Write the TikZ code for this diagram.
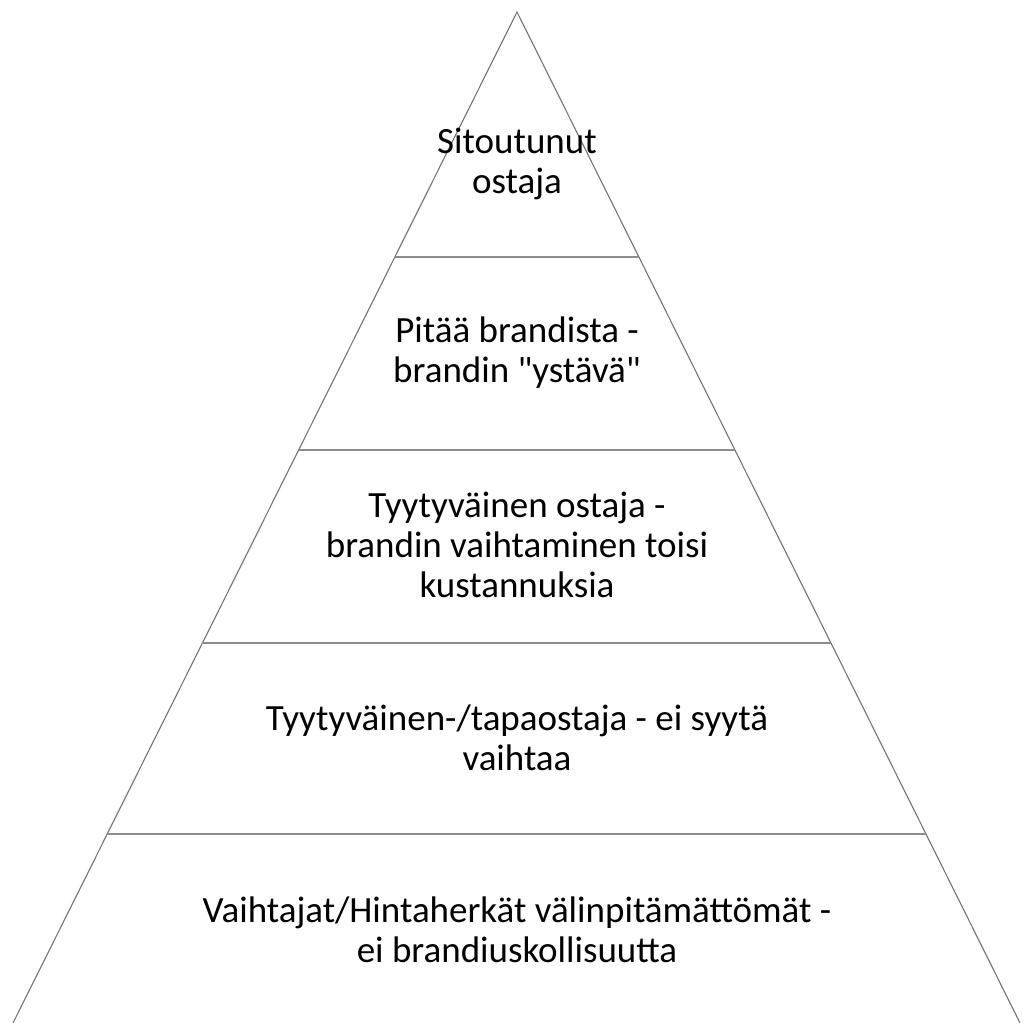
\documentclass[tikz,border=0pt]{standalone}
\usepackage{fontspec}
\setmainfont{Carlito}[Ligatures=TeXOff]
\begin{document}
\begin{tikzpicture}[x=1pt,y=-1pt,
  edge/.style={draw=black!55,line width=1.1pt},
  tier/.style={draw=black!45,line width=1.1pt},
  label/.style={align=center,inner sep=0pt,anchor=base,
    font=\fontsize{37}{40}\selectfont}]
\useasboundingbox (0,0) rectangle (1023,1023);
% outline of the pyramid (base runs past the lower edge)
\coordinate (apex) at (517,12);
\coordinate (bl) at (13,1023);
\coordinate (br) at (1020,1023);
\begin{scope}
\clip (0,0) rectangle (1023,1023);
\draw[edge] (bl) -- (apex) -- (br);
\end{scope}
% tier boundaries
\coordinate (l1) at (394.9,257); \coordinate (r1) at (638.9,257);
\coordinate (l2) at (298.7,450); \coordinate (r2) at (734.9,450);
\coordinate (l3) at (202.4,643); \coordinate (r3) at (830.9,643);
\coordinate (l4) at (107.2,834); \coordinate (r4) at (926.0,834);
\draw[tier] (l1) -- (r1);
\draw[tier] (l2) -- (r2);
\draw[tier] (l3) -- (r3);
\draw[tier] (l4) -- (r4);
% tier labels (anchored at the baseline of the last line)
\node[label] (t1) at (517,193) {Sitoutunut\\ostaja};
\node[label] (t2) at (517,382) {Pitää brandista -\\brandin "ystävä"};
\node[label] (t3) at (517,597) {Tyytyväinen ostaja -\\brandin vaihtaminen toisi\\kustannuksia};
\node[label] (t4) at (517,770) {Tyytyväinen-/tapaostaja - ei syytä\\vaihtaa};
\node[label] (t5) at (517,962) {Vaihtajat/Hintaherkät välinpitämättömät -\\ei brandiuskollisuutta};
\end{tikzpicture}
\end{document}
